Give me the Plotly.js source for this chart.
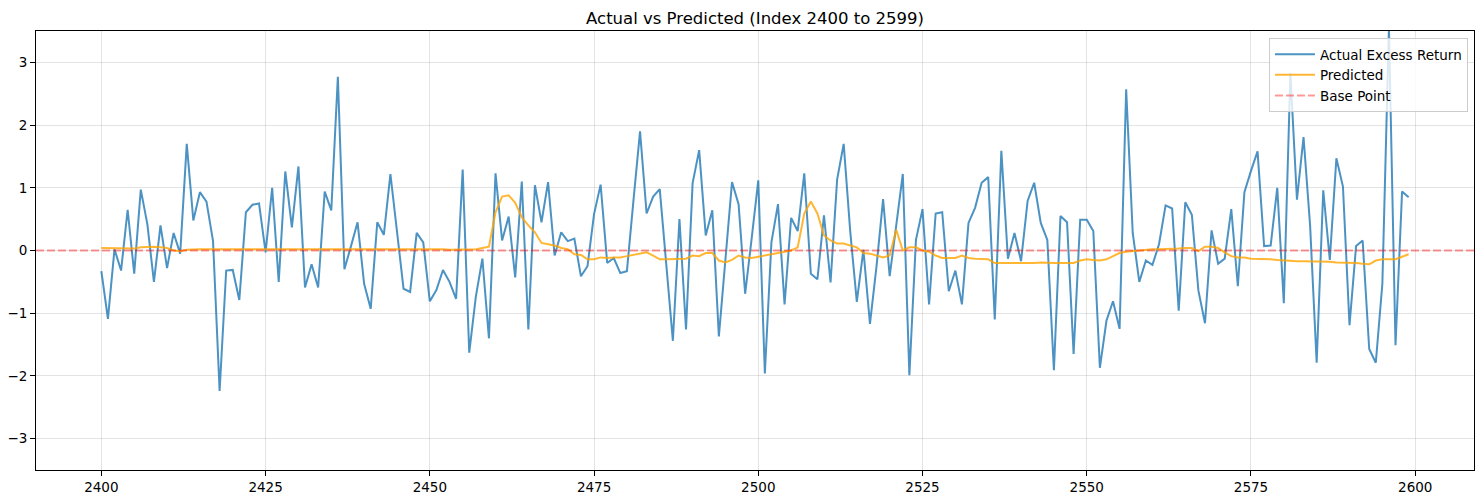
<!DOCTYPE html>
<html>
<head>
<meta charset="utf-8">
<script src="https://cdn.plot.ly/plotly-3.0.1.min.js"></script>
<style>html,body{margin:0;padding:0;background:#fff;}#chart{width:1482px;height:499px;}</style>
</head>
<body>
<div id="chart"></div>
<script>
var startIndex = 2400;
var actual = [
-0.33,-1.09,0.02,-0.32,0.65,-0.37,0.97,0.42,-0.50,0.40,
-0.28,0.28,-0.05,1.70,0.48,0.93,0.78,0.15,-2.24,-0.32,
-0.31,-0.79,0.61,0.73,0.75,-0.03,1.00,-0.50,1.26,0.37,
1.34,-0.59,-0.22,-0.59,0.94,0.64,2.77,-0.30,0.07,0.45,
-0.53,-0.93,0.45,0.25,1.22,0.30,-0.61,-0.66,0.28,0.13,
-0.81,-0.63,-0.31,-0.50,-0.77,1.29,-1.63,-0.74,-0.13,-1.40,
1.23,0.16,0.54,-0.43,1.10,-1.26,1.04,0.45,1.09,-0.08,
0.29,0.15,0.19,-0.41,-0.25,0.58,1.05,-0.20,-0.12,-0.36,
-0.33,0.80,1.90,0.59,0.86,0.98,-0.25,-1.44,0.50,-1.26,
1.07,1.60,0.24,0.64,-1.37,-0.15,1.09,0.74,-0.69,0.20,
1.12,-1.96,0.13,0.74,-0.86,0.52,0.31,1.23,-0.37,-0.46,
0.56,-0.51,1.13,1.70,0.30,-0.82,0.01,-1.17,-0.25,0.82,
-0.41,0.40,1.22,-1.99,0.17,0.66,-0.86,0.59,0.61,-0.65,
-0.32,-0.86,0.44,0.68,1.08,1.17,-1.10,1.59,-0.13,0.28,
-0.17,0.79,1.08,0.44,0.17,-1.91,0.55,0.45,-1.65,0.49,
0.49,0.31,-1.87,-1.12,-0.81,-1.25,2.57,0.28,-0.50,-0.16,
-0.23,0.10,0.72,0.67,-0.96,0.77,0.57,-0.64,-1.16,0.32,
-0.21,-0.13,0.66,-0.57,0.93,1.27,1.58,0.07,0.08,1.00,
-0.84,2.83,0.81,1.81,0.40,-1.79,0.96,-0.15,1.47,1.02,
-1.19,0.07,0.16,-1.57,-1.79,-0.53,3.55,-1.51,0.94,0.85
];
var predicted = [
0.04,0.04,0.04,0.04,0.03,0.03,0.05,0.06,0.06,0.05,
0.04,0.00,-0.01,0.01,0.02,0.02,0.02,0.02,0.02,0.02,
0.03,0.02,0.02,0.02,0.02,0.02,0.02,0.03,0.02,0.02,
0.03,0.02,0.02,0.02,0.02,0.02,0.02,0.02,0.02,0.02,
0.03,0.03,0.02,0.02,0.02,0.02,0.02,0.02,0.02,0.02,
0.02,0.02,0.02,0.01,0.01,0.01,0.01,0.02,0.04,0.06,
0.61,0.86,0.88,0.76,0.53,0.40,0.29,0.12,0.10,0.08,
0.04,0.02,-0.06,-0.07,-0.14,-0.14,-0.11,-0.12,-0.11,-0.11,
-0.09,-0.07,-0.06,-0.03,-0.08,-0.14,-0.14,-0.14,-0.14,-0.13,
-0.08,-0.09,-0.04,-0.04,-0.16,-0.19,-0.15,-0.08,-0.11,-0.12,
-0.10,-0.08,-0.06,-0.03,-0.01,0.00,0.05,0.59,0.78,0.59,
0.24,0.16,0.11,0.11,0.08,0.05,-0.04,-0.05,-0.08,-0.11,
-0.08,0.33,0.00,0.05,0.05,0.00,-0.02,-0.08,-0.12,-0.12,
-0.12,-0.08,-0.12,-0.13,-0.13,-0.14,-0.20,-0.20,-0.20,-0.21,
-0.20,-0.20,-0.20,-0.19,-0.20,-0.20,-0.20,-0.20,-0.20,-0.16,
-0.14,-0.15,-0.16,-0.14,-0.09,-0.04,-0.02,-0.01,0.01,0.02,
0.02,0.02,0.02,0.03,0.03,0.04,0.04,-0.01,0.06,0.06,
0.04,-0.03,-0.09,-0.11,-0.11,-0.13,-0.13,-0.14,-0.14,-0.15,
-0.16,-0.16,-0.17,-0.17,-0.17,-0.18,-0.18,-0.18,-0.19,-0.19,
-0.20,-0.20,-0.21,-0.22,-0.16,-0.14,-0.14,-0.14,-0.10,-0.06
];
var basePoint = 0;
var xTicks = [2400, 2425, 2450, 2475, 2500, 2525, 2550, 2575, 2600];
var yTicks = [-3, -2, -1, 0, 1, 2, 3];

var idx = [];
for (var i = 0; i < actual.length; i++) idx.push(startIndex + i);

var traces = [
  {x: idx, y: actual, type: 'scatter', mode: 'lines', name: 'Actual Excess Return',
   line: {color: 'rgba(31,119,180,0.8)', width: 2}},
  {x: idx, y: predicted, type: 'scatter', mode: 'lines', name: 'Predicted',
   line: {color: 'rgba(255,165,0,0.8)', width: 2}},
  {x: [null], y: [null], type: 'scatter', mode: 'lines', name: 'Base Point',
   line: {color: 'rgba(255,0,0,0.4)', width: 2, dash: '8px,3px'}}
];

var xmin = idx[0], xmax = idx[idx.length - 1];
var pad = (xmax - xmin) * 0.05;

var layout = {
  width: 1482, height: 499,
  margin: {l: 36, r: 8, t: 31, b: 29},
  paper_bgcolor: '#fff', plot_bgcolor: '#fff',
  font: {family: 'DejaVu Sans', size: 13.5, color: '#000'},
  title: {text: 'Actual vs Predicted (Index 2400 to 2599)', font: {family: 'DejaVu Sans', size: 16.5, color: '#000'},
          x: 0.5, xref: 'paper', y: 1 - 18/499, yref: 'container', yanchor: 'middle'},
  showlegend: true,
  legend: {x: 0.9958, y: 0.984, xanchor: 'right', yanchor: 'top', bgcolor: 'rgba(255,255,255,0.8)',
           bordercolor: '#cccccc', borderwidth: 1, font: {family: 'DejaVu Sans', size: 13.5, color: '#000'},
           itemwidth: 40},
  xaxis: {range: [xmin - pad, xmax + pad], tickvals: xTicks, ticks: 'outside', ticklen: 5, tickwidth: 1,
          tickcolor: '#000', showline: true, mirror: true, linecolor: '#000', linewidth: 1,
          showgrid: true, gridcolor: 'rgba(176,176,176,0.35)', gridwidth: 1, zeroline: false,
          tickfont: {family: 'DejaVu Sans', size: 13.5, color: '#000'}},
  yaxis: {range: [-3.5, 3.5], tickvals: yTicks, ticks: 'outside', ticklen: 5, tickwidth: 1,
          tickcolor: '#000', showline: true, mirror: true, linecolor: '#000', linewidth: 1,
          showgrid: true, gridcolor: 'rgba(176,176,176,0.35)', gridwidth: 1, zeroline: false,
          tickfont: {family: 'DejaVu Sans', size: 13.5, color: '#000'}},
  shapes: [{type: 'line', xref: 'paper', x0: 0, x1: 1, yref: 'y', y0: basePoint, y1: basePoint,
            line: {color: 'rgba(255,0,0,0.4)', width: 2, dash: '8px,3px'}}]
};

Plotly.newPlot('chart', traces, layout, {staticPlot: true, displayModeBar: false});
</script>
</body>
</html>
